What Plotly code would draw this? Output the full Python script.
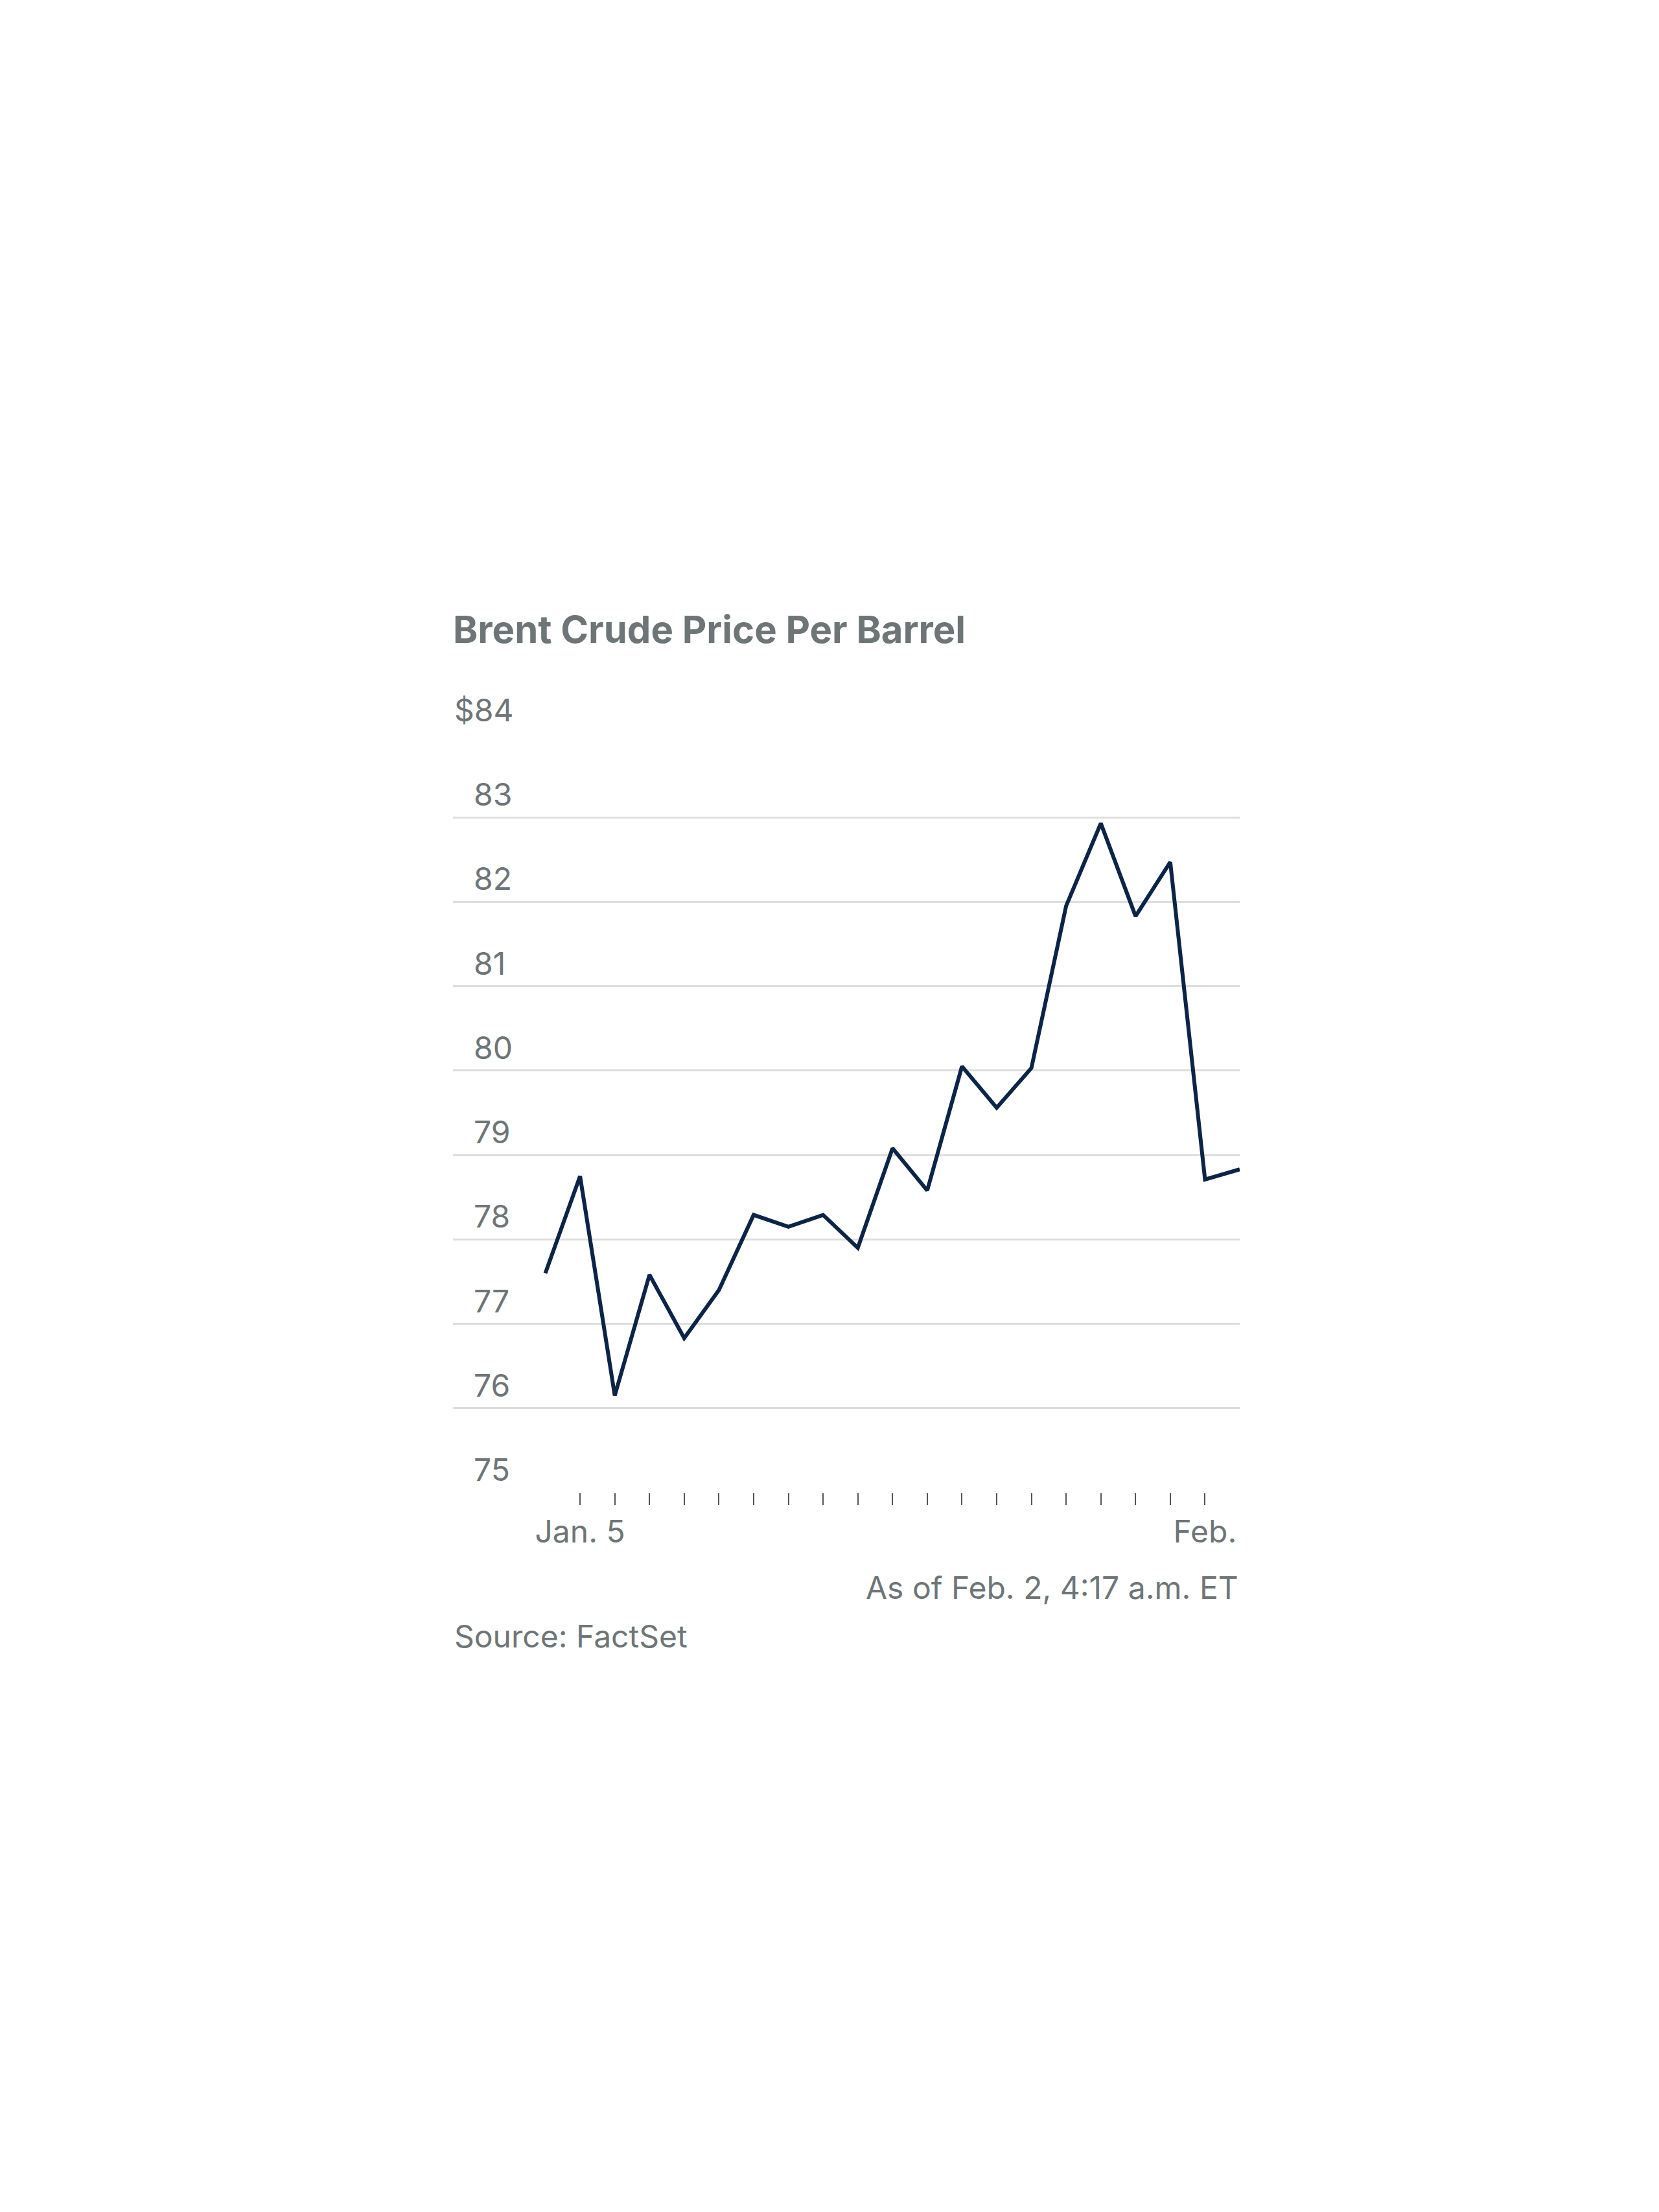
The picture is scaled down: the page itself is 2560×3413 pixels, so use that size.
import plotly.graph_objects as go

idx = list(range(21))
prices = [77.6, 78.75, 76.15, 77.58, 76.83, 77.4, 78.29, 78.15, 78.29, 77.9, 79.08,
          78.58, 80.05, 79.56, 80.03, 81.95, 82.93, 81.83, 82.47, 78.71, 78.83]
y_ticks = [75, 76, 77, 78, 79, 80, 81, 82, 83, 84]
y_labels = ["75", "76", "77", "78", "79", "80", "81", "82", "83", "$84"]
x_labels = {1: "Jan. 5", 19: "Feb."}

gray = "#6e7577"
T, B = 1123, 2295
def py(p):
    return (B - p) / (B - T)

fig = go.Figure()
fig.add_trace(go.Scatter(x=idx, y=prices, mode="lines",
                         line=dict(color="#0b2447", width=6), hoverinfo="skip"))
fig.update_layout(
    width=2560, height=3413, paper_bgcolor="white", plot_bgcolor="white",
    margin=dict(l=691, r=655, t=T, b=3413 - B), showlegend=False,
    font=dict(family="Inter, Roboto, sans-serif", color=gray, size=48),
    title=dict(text="<b>Brent Crude Price Per Barrel</b>", x=691/2560, xanchor="left",
               y=1 - 964/3413, yanchor="middle", font=dict(size=58, color=gray)),
)
fig.update_xaxes(range=[-2.66, 20], showgrid=False, zeroline=False,
                 tickvals=list(range(1, 20)),
                 ticktext=[x_labels.get(i, "") for i in range(1, 20)],
                 ticks="outside", ticklen=18, tickwidth=2, tickcolor="#555",
                 tickfont=dict(size=48, color=gray))
fig.update_yaxes(range=[75, 84], tickvals=y_ticks, showticklabels=False,
                 gridcolor="#dddddd", gridwidth=3, zeroline=False, showline=False)
for v, t in zip(y_ticks, y_labels):
    fig.add_annotation(x=0, xref="paper", y=v, yref="y", text=t, showarrow=False,
                       xanchor="left", xshift=0 if t.startswith("$") else 30,
                       yanchor="bottom", yshift=4, font=dict(size=48, color=gray))
fig.add_annotation(x=1, xref="paper", y=py(2441), yref="paper", text="As of Feb. 2, 4:17 a.m. ET",
                   showarrow=False, xanchor="right", yanchor="middle", font=dict(size=48, color=gray))
fig.add_annotation(x=0, xref="paper", y=py(2516), yref="paper", text="Source: FactSet",
                   showarrow=False, xanchor="left", yanchor="middle", font=dict(size=48, color=gray))
fig.write_html("out.html")
